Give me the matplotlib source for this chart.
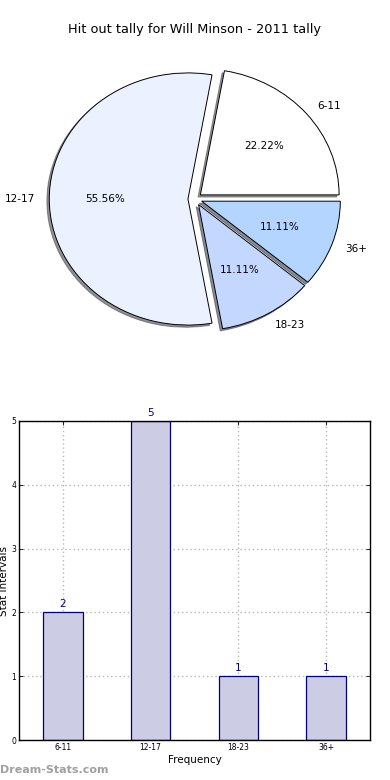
import matplotlib
matplotlib.use("Agg")
import matplotlib.pyplot as plt

categories = ["6-11", "12-17", "18-23", "36+"]
counts = [2, 5, 1, 1]
pie_colors = ["#FFFFFF", "#EBF1FF", "#C4D7FF", "#B3D5FF"]
title = "Hit out tally for Will Minson - 2011 tally"

plt.rcParams['font.family'] = ['DejaVu Sans']
fig = plt.figure(figsize=(3.9, 7.8), dpi=100)

# Pie
axp = fig.add_axes([19/390, (780-359)/780, 352/390, 320/780])
wedges, texts, autotexts = axp.pie(
    counts, labels=categories, colors=pie_colors, explode=[0.05]*4,
    autopct='%1.2f%%', shadow=dict(ox=-0.012, oy=-0.012, alpha=0.6), startangle=0,
    radius=0.985,
    wedgeprops=dict(edgecolor='black', linewidth=0.7),
    textprops=dict(fontsize=7.5))
axp.set_aspect('auto')
axp.set_xlim(-1.25, 1.25)
axp.set_ylim(-1.25, 1.25)
axp.axis('off')
fig.text(0.5, 1 - 30/780, title, ha='center', va='center', fontsize=9.3)

# Bar
axb = fig.add_axes([19/390, 40/780, 351/390, 319/780])
x = list(range(len(categories)))
bars = axb.bar(x, counts, width=0.45, color='#CCCCE5', edgecolor='#000080', linewidth=0.9, zorder=2)
for xi, c in zip(x, counts):
    axb.text(xi, c + 0.05, str(c), ha='center', va='bottom', color='#000080', fontsize=7.5)
axb.set_xlim(-0.5, 3.5)
axb.set_ylim(0, 5)
axb.set_xticks(x)
axb.set_xticklabels(categories, fontsize=5.5)
axb.set_yticks(range(6))
axb.set_yticklabels([str(i) for i in range(6)], fontsize=5.5)
axb.tick_params(direction='in', top=True, right=True, length=3, width=0.6, pad=2)
axb.grid(True, linestyle=(0, (1, 2)), color='#B8B8B8', linewidth=1.0, zorder=0)
axb.set_axisbelow(True)
axb.set_xlabel("Frequency", fontsize=7.5, labelpad=2)
axb.set_ylabel("Stat Intervals", fontsize=7.5, labelpad=2)
for s in axb.spines.values():
    s.set_linewidth(1.0)

fig.text(0.0, 1 - 770/780, "Dream-Stats.com", ha='left', va='center', fontsize=8,
         color='#A0A0A0', fontweight='bold')

fig.savefig("out.png", dpi=100)
